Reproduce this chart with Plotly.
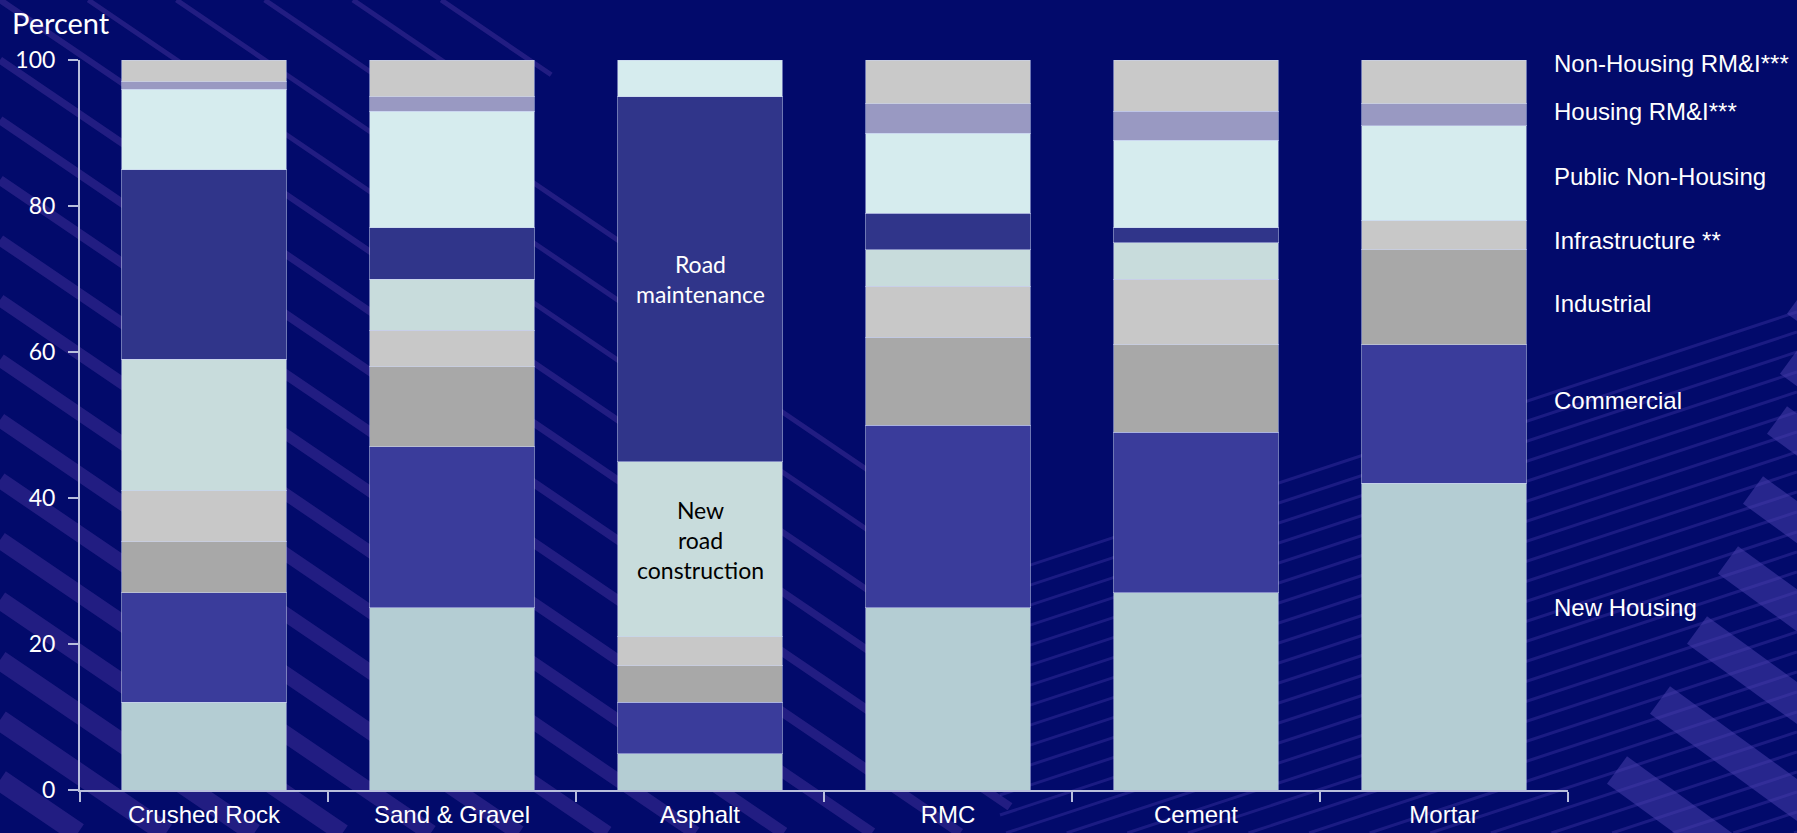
import plotly.graph_objects as go

# ---------------- data ----------------
categories = ["Crushed Rock", "Sand & Gravel", "Asphalt", "RMC", "Cement", "Mortar"]

new_housing = [12, 25, 5, 25, 27, 42]
commercial = [15, 22, 7, 25, 22, 19]
industrial = [7, 11, 5, 12, 12, 13]
infra_other = [7, 5, 4, 7, 9, 4]
new_road = [18, 7, 24, 5, 5, 0]
road_maint = [26, 7, 50, 5, 2, 0]
public_nh = [11, 16, 5, 11, 12, 13]
housing_rmi = [1, 2, 0, 4, 4, 3]
nonhousing_rmi = [3, 5, 0, 6, 7, 6]

series = [
    ("New Housing", new_housing, "#B4CDD3"),
    ("Commercial", commercial, "#3A3C9B"),
    ("Industrial", industrial, "#A8A8A8"),
    ("Infrastructure other", infra_other, "#C8C8C8"),
    ("New road construction", new_road, "#C8DCDC"),
    ("Road maintenance", road_maint, "#30358A"),
    ("Public Non-Housing", public_nh, "#D6ECEE"),
    ("Housing RM&I***", housing_rmi, "#9999C2"),
    ("Non-Housing RM&I***", nonhousing_rmi, "#C9C9C9"),
]

right_labels = ["New Housing", "Commercial", "Industrial", "Infrastructure **",
                "Public Non-Housing", "Housing RM&I***", "Non-Housing RM&I***"]
right_label_y = [25, 53.4, 66.7, 75.3, 84.1, 92.9, 99.5]

y_ticks = [0, 20, 40, 60, 80, 100]

# ---------------- figure ----------------
W, H = 1797, 833
ML, MR, MT, MB = 80, 229, 60, 43
PW, PH = W - ML - MR, H - MT - MB

fig = go.Figure()
for name, vals, col in series:
    fig.add_trace(go.Bar(
        x=categories, y=[v if v else None for v in vals], name=name,
        marker=dict(color=col, line=dict(color="rgba(200,210,240,0.55)", width=1)),
        showlegend=False,
    ))


def px(x, y):
    return (x - ML) / PW, (H - MB - y) / PH


shapes = []
# down-right stripes (left part of the background)
stripe_col = "rgba(62,46,150,0.55)"
for i, c in enumerate(range(-300, 840, 60)):
    s = 0.68
    x0 = 0.0 if c >= 0 else -c / s
    xb = (c + 300) / (0.85 - s)
    if c < 0:
        xb = max(xb, x0 + 110)
    xe = min(xb, (833 - c) / s, 1010)
    if xe <= x0:
        continue
    w = 5 + min(16, max(0, (c + 60) / 50))
    a = px(x0, c + s * x0)
    b = px(xe, c + s * xe)
    shapes.append(dict(type="line", xref="paper", yref="paper", x0=a[0], y0=a[1], x1=b[0], y1=b[1],
                       line=dict(color=stripe_col, width=w), layer="below"))

# up-right thin lines (right part)
for c in range(575, 1100, 20):
    s = -0.33
    x0 = 1000.0
    y0 = c
    if y0 > 833:
        x0 = 1000 + (833 - c) / s
        y0 = 833
    x1 = 1797.0
    y1 = c + s * (x1 - 1000)
    if x0 >= x1:
        continue
    a = px(x0, y0)
    b = px(x1, y1)
    shapes.append(dict(type="line", xref="paper", yref="paper", x0=a[0], y0=a[1], x1=b[0], y1=b[1],
                       line=dict(color="rgba(85,70,190,0.30)", width=3), layer="below"))

# thick slanted blocks bottom right
for (sx, sy) in [(1797, 300), (1790, 360), (1777, 420), (1753, 490), (1728, 560), (1697, 630), (1660, 700), (1617, 770)]:
    a = px(sx, sy)
    b = px(sx + 320, sy + 0.73 * 320)
    shapes.append(dict(type="line", xref="paper", yref="paper", x0=a[0], y0=a[1], x1=b[0], y1=b[1],
                       line=dict(color="rgba(75,65,175,0.5)", width=34), layer="below"))

annotations = []
for lab, yv in zip(right_labels, right_label_y):
    annotations.append(dict(text=lab, xref="paper", yref="y", x=(1552 - ML) / PW, y=yv,
                            xanchor="left", yanchor="middle", showarrow=False,
                            font=dict(family="Liberation Sans", size=24, color="white")))

annotations.append(dict(text="Percent", xref="paper", yref="paper", x=(10 - ML) / PW, y=(H - MB - 22) / PH,
                        xanchor="left", yanchor="middle", showarrow=False,
                        font=dict(family="Lato", size=29, color="white")))
annotations.append(dict(text="Road<br>maintenance", x="Asphalt", y=70, xref="x", yref="y",
                        showarrow=False, align="center",
                        font=dict(family="Lato", size=23, color="white")))
annotations.append(dict(text="New<br>road<br>construction", x="Asphalt", y=34.2, xref="x", yref="y",
                        showarrow=False, align="center",
                        font=dict(family="Lato", size=23, color="black")))

axis_col = "#B8BEDC"
fig.update_layout(
    width=W, height=H,
    margin=dict(l=ML, r=MR, t=MT, b=MB, autoexpand=False),
    barmode="stack", bargap=0.335,
    paper_bgcolor="#020A6B", plot_bgcolor="rgba(0,0,0,0)",
    shapes=shapes, annotations=annotations,
    xaxis=dict(showline=True, linecolor=axis_col, linewidth=2, ticks="outside", tickson="boundaries",
               ticklen=10, tickwidth=2, tickcolor=axis_col, showgrid=False, zeroline=False,
               ticklabelstandoff=2, automargin=False,
               tickfont=dict(family="Liberation Sans", size=24, color="white")),
    yaxis=dict(range=[0, 100], tickvals=y_ticks, showline=True, linecolor=axis_col, linewidth=2,
               ticks="outside", ticklen=10, tickwidth=2, tickcolor=axis_col, showgrid=False,
               ticklabelstandoff=8, automargin=False,
               zeroline=False, tickfont=dict(family="Lato", size=23, color="white")),
)

fig.write_html("out.html")
